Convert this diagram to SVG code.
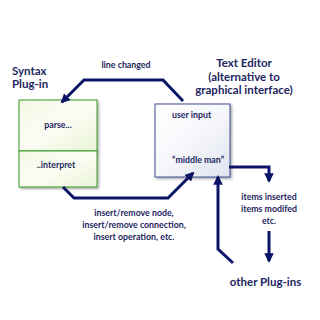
<svg xmlns="http://www.w3.org/2000/svg" width="320" height="320" viewBox="0 0 320 320">
<style>
text{font-family:Lato,"Open Sans","Liberation Sans",sans-serif;fill:#1d2660;font-weight:700}
.s{font-size:8.8px}
.t{font-size:11.5px}
.c{stroke:#0c1468;stroke-width:3;fill:none;stroke-linejoin:miter}
</style>
<defs>
<marker id="ah" viewBox="0 0 10 10" refX="8" refY="5" markerWidth="3.2" markerHeight="3.2" orient="auto" markerUnits="strokeWidth">
<path d="M0,0 L10,5 L0,10 z" fill="#0c1468"/>
</marker>
<linearGradient id="gg" x1="0" y1="0" x2="1" y2="1">
<stop offset="0" stop-color="#f3f8e4"/>
<stop offset="0.5" stop-color="#fbfdf4"/>
<stop offset="1" stop-color="#eaf3d6"/>
</linearGradient>
<linearGradient id="bg" x1="0" y1="0" x2="1" y2="1">
<stop offset="0" stop-color="#ffffff"/>
<stop offset="0.5" stop-color="#f6f7fb"/>
<stop offset="1" stop-color="#dfe3ef"/>
</linearGradient>
<filter id="sh" x="-20%" y="-20%" width="140%" height="140%">
<feDropShadow dx="1.5" dy="1.5" stdDeviation="1.2" flood-color="#000" flood-opacity="0.35"/>
</filter>
</defs>
<rect width="320" height="320" fill="#ffffff"/>
<g id="syntax-plugin">
<text class="t" x="12" y="75">Syntax</text>
<text class="t" x="12" y="88">Plug-in</text>
<rect x="19" y="100" width="78" height="51" fill="url(#gg)" stroke="#3a9a2a" stroke-width="1" filter="url(#sh)"/>
<text class="s" x="58" y="128" text-anchor="middle">parse...</text>
<rect x="19" y="151" width="78" height="36" fill="url(#gg)" stroke="#3a9a2a" stroke-width="1" filter="url(#sh)"/>
<text class="s" x="56" y="168" text-anchor="middle">..interpret</text>
</g>
<g id="text-editor">
<text class="t" x="244" y="67" text-anchor="middle">Text Editor</text>
<text class="t" x="244" y="80.5" text-anchor="middle">(alternative to</text>
<text class="t" x="244" y="94" text-anchor="middle">graphical interface)</text>
<rect x="155" y="104" width="75" height="73" fill="url(#bg)" stroke="#3d4f8f" stroke-width="1" filter="url(#sh)"/>
<text class="s" x="172" y="118">user input</text>
<text class="s" x="172" y="163">“middle man”</text>
</g>
<g id="other-plugins">
<text class="t" x="265.5" y="286" text-anchor="middle">other Plug-ins</text>
</g>
<g id="connectors">
<path class="c" d="M183,101 L163,80 L84,80 L62,102" marker-end="url(#ah)"/>
<path class="c" d="M63,187 L74,198 L168,198 L193,173" marker-end="url(#ah)"/>
<path class="c" d="M229,167 L269,167 L269,181" marker-end="url(#ah)"/>
<path class="c" d="M269,231 L269,261" marker-end="url(#ah)"/>
<path class="c" d="M233,263 L218,249 L218,177" marker-end="url(#ah)"/>
</g>
<g id="labels">
<text class="s" x="126" y="68" text-anchor="middle">line changed</text>
<text class="s" x="134" y="216" text-anchor="middle">insert/remove node,</text>
<text class="s" x="134" y="228" text-anchor="middle">insert/remove connection,</text>
<text class="s" x="134" y="240" text-anchor="middle">insert operation, etc.</text>
<text class="s" x="269" y="200" text-anchor="middle">items inserted</text>
<text class="s" x="269" y="212" text-anchor="middle">items modifed</text>
<text class="s" x="269" y="224" text-anchor="middle">etc.</text>
</g>
</svg>
